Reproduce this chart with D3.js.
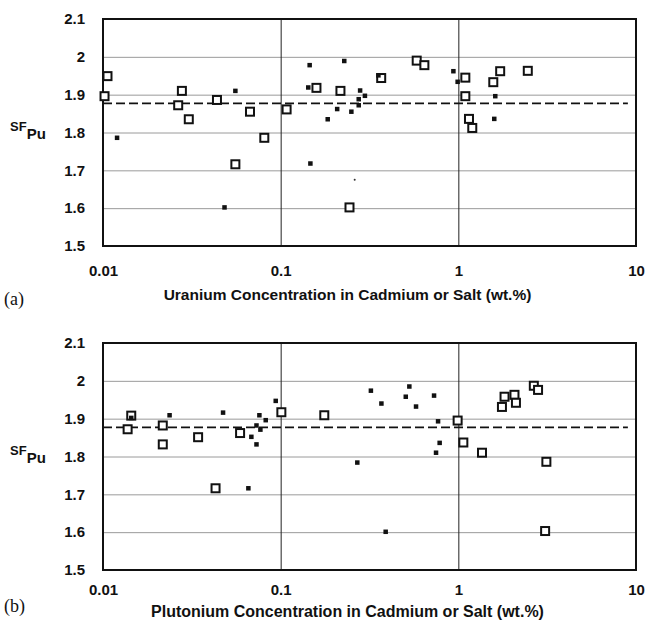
<!DOCTYPE html>
<html>
<head>
<meta charset="utf-8">
<script src="https://cdn.jsdelivr.net/npm/d3@7"></script>
<style>
  body { margin: 0; background: #fff; }
  text { font-family: "Liberation Sans", Arial, Helvetica, sans-serif; fill: #111; }
</style>
</head>
<body>
<div class="chart"></div>
<script>
// axis ticks
var xTicks = [0.01, 0.1, 1, 10];
var xTickLabels = ["0.01", "0.1", "1", "10"];
var yTicks = [1.5, 1.6, 1.7, 1.8, 1.9, 2.0, 2.1];
var yTickLabels = ["1.5", "1.6", "1.7", "1.8", "1.9", "2", "2.1"];
var meanSF = 1.877;
var meanRange = [0.01, 9];

// (a) uranium concentration
var uOpen = [[0.0106,1.949],[0.0102,1.896],[0.0278,1.910],[0.0265,1.872],[0.0304,1.835],
  [0.0438,1.886],[0.0672,1.855],[0.0809,1.786],[0.0556,1.716],[0.108,1.861],[0.159,1.918],
  [0.217,1.910],[0.583,1.990],[0.644,1.978],[0.244,1.602],[0.368,1.944],[1.095,1.945],
  [1.095,1.896],[1.72,1.962],[2.46,1.963],[1.573,1.933],[1.148,1.836],[1.198,1.812]];
var uFilled = [[0.0120,1.786],[0.0556,1.910],[0.0483,1.602],[0.1456,1.978],[0.228,1.989],
  [0.143,1.919],[0.147,1.718],[0.184,1.835],[0.208,1.862],[0.250,1.855],[0.280,1.911],
  [0.275,1.888],[0.275,1.872],[0.298,1.897],[0.355,1.951],[0.938,1.962],[0.991,1.934],
  [1.614,1.896],[1.593,1.836]];
var uStray = [[0.261,1.675]];

// (b) plutonium concentration
var puOpen = [[0.01442,1.908],[0.01376,1.872],[0.0217,1.882],[0.0217,1.832],[0.0343,1.851],
  [0.0430,1.716],[0.0591,1.862],[0.1009,1.917],[0.176,1.909],[0.991,1.895],[1.067,1.837],
  [1.359,1.810],[3.13,1.786],[3.08,1.603],[2.66,1.987],[2.81,1.976],[1.82,1.958],
  [2.07,1.963],[2.11,1.942],[1.76,1.931]];
var puFilled = [[0.01442,1.902],[0.0237,1.909],[0.0474,1.916],[0.0658,1.716],[0.0759,1.909],
  [0.0824,1.896],[0.0731,1.882],[0.0769,1.871],[0.0684,1.852],[0.0731,1.832],[0.0938,1.947],
  [0.322,1.974],[0.369,1.940],[0.530,1.985],[0.506,1.958],[0.578,1.932],[0.730,1.961],
  [0.769,1.893],[0.785,1.836],[0.749,1.810],[0.270,1.784],[0.390,1.601]];
var puStray = [];

var svg = d3.select(".chart").append("svg")
  .attr("width", 645)
  .attr("height", 625);

svg.append("rect").attr("width", 645).attr("height", 625).attr("fill", "#fff");

function panel(top, letter, title, titleSize, titleY, letterY, xPad, openPts, filledPts, strayPts) {
  var left = 103, width = 533, height = 227;

  var x = d3.scaleLog().domain([0.01, 10]).range([0, width]);
  var y = d3.scaleLinear().domain([1.5, 2.1]).range([height, 0]);

  var g = svg.append("g")
    .attr("transform", "translate(" + left + "," + top + ")");

  // horizontal grid
  g.append("g")
    .call(d3.axisLeft(y).tickValues(yTicks.slice(1, -1)).tickSize(-width).tickFormat(""))
    .call(function(a) { a.select(".domain").remove(); })
    .selectAll("line").attr("stroke", "#9a9a9a").attr("stroke-width", 1);

  // vertical lines at decades
  g.append("g")
    .attr("transform", "translate(0," + height + ")")
    .call(d3.axisBottom(x).tickValues([0.1, 1]).tickSize(height).tickFormat(""))
    .call(function(a) { a.select(".domain").remove(); })
    .selectAll("line").attr("transform", "translate(0," + (-height) + ")")
    .attr("stroke", "#222").attr("stroke-width", 1);

  // mean line
  g.append("line")
    .attr("x1", x(meanRange[0])).attr("x2", x(meanRange[1]))
    .attr("y1", y(meanSF)).attr("y2", y(meanSF))
    .attr("stroke", "#111").attr("stroke-width", 1.8)
    .attr("stroke-dasharray", "9,4");

  // frame
  g.append("rect")
    .attr("width", width).attr("height", height)
    .attr("fill", "none").attr("stroke", "#111").attr("stroke-width", 2);

  // tick labels
  g.append("g")
    .call(d3.axisLeft(y).tickValues(yTicks).tickSize(0).tickPadding(18)
      .tickFormat(function(d, i) { return yTickLabels[i]; }))
    .call(function(a) { a.select(".domain").remove(); })
    .selectAll("text")
    .style("font-size", "15px").style("font-weight", "bold")
    .style("font-family", "'Liberation Sans', Arial, sans-serif").attr("fill", "#111");

  g.append("g")
    .attr("transform", "translate(0," + height + ")")
    .call(d3.axisBottom(x).tickValues(xTicks).tickSize(0).tickPadding(xPad)
      .tickFormat(function(d, i) { return xTickLabels[i]; }))
    .call(function(a) { a.select(".domain").remove(); })
    .selectAll("text")
    .style("font-size", "15px").style("font-weight", "bold")
    .style("font-family", "'Liberation Sans', Arial, sans-serif").attr("fill", "#111");

  // points: open squares
  var s = 8;
  g.selectAll(".open").data(openPts).enter().append("rect")
    .attr("class", "open")
    .attr("x", function(d) { return x(d[0]) - s / 2; })
    .attr("y", function(d) { return y(d[1]) - s / 2; })
    .attr("width", s).attr("height", s)
    .attr("fill", "#fff").attr("stroke", "#111").attr("stroke-width", 2);

  var f = 4.5;
  g.selectAll(".filled").data(filledPts).enter().append("rect")
    .attr("class", "filled")
    .attr("x", function(d) { return x(d[0]) - f / 2; })
    .attr("y", function(d) { return y(d[1]) - f / 2; })
    .attr("width", f).attr("height", f)
    .attr("fill", "#111");

  g.selectAll(".stray").data(strayPts).enter().append("circle")
    .attr("cx", function(d) { return x(d[0]); })
    .attr("cy", function(d) { return y(d[1]); })
    .attr("r", 1).attr("fill", "#333");

  // y label SF_Pu
  var lab = g.append("text")
    .attr("x", -93).attr("y", y(1.8) - 2)
    .style("font-weight", "bold");
  lab.append("tspan").style("font-size", "13px").text("SF");
  lab.append("tspan").attr("dy", 8).style("font-size", "15px").text("Pu");

  // x title
  svg.append("text")
    .attr("x", left + width / 2 - 22).attr("y", titleY)
    .attr("text-anchor", "middle")
    .style("font-size", titleSize + "px").style("font-weight", "bold")
    .text(title);

  // panel letter
  svg.append("text")
    .attr("x", 4).attr("y", letterY)
    .style("font-family", "'Liberation Serif', 'Times New Roman', serif")
    .style("font-size", "18px")
    .text(letter);
}

panel(19, "(a)", "Uranium Concentration in Cadmium or Salt (wt.%)", 15.5, 300, 305, 19,
  uOpen, uFilled, uStray);
panel(343, "(b)", "Plutonium Concentration in Cadmium or Salt (wt.%)", 16, 617, 612, 14,
  puOpen, puFilled, puStray);
</script>
</body>
</html>
